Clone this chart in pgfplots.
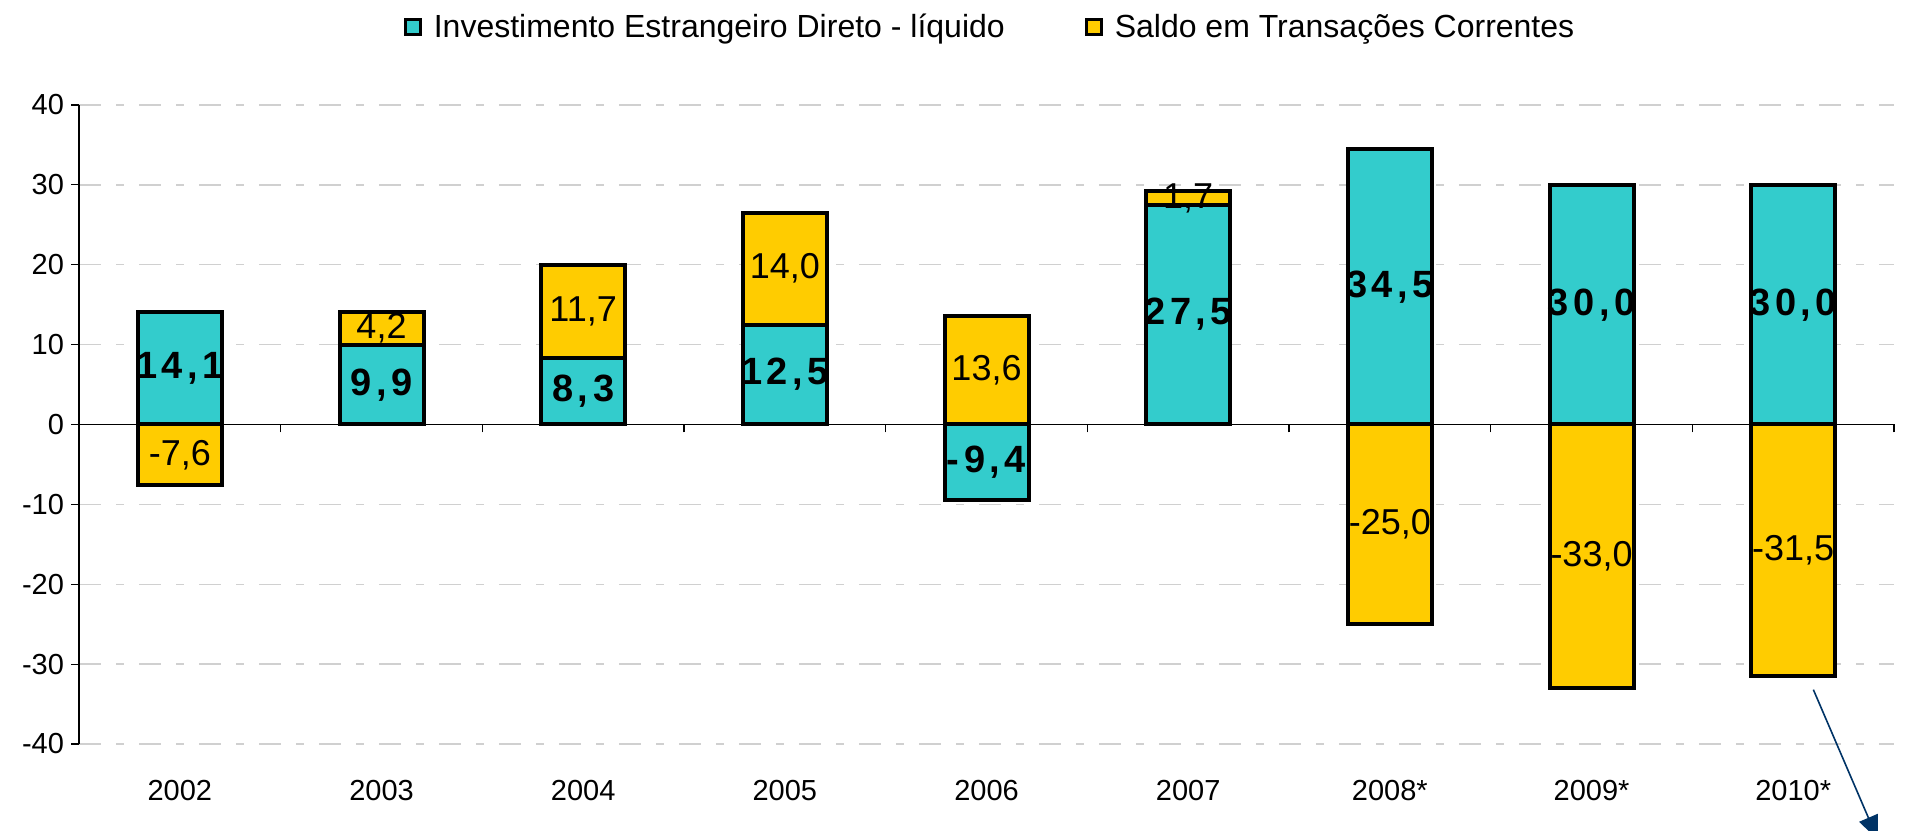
\documentclass[border=0pt]{standalone}
\usepackage{fontspec}
\setmainfont{Liberation Sans}
\newfontfamily\lblbold[LetterSpace=12]{Liberation Sans}
\usepackage{pgfplots}
\usepackage{pgfplotstable}
\pgfplotsset{compat=1.18}
\usetikzlibrary{arrows.meta}
\definecolor{iedcol}{HTML}{33CCCC}
\definecolor{stccol}{HTML}{FFCC00}
\definecolor{gridcol}{HTML}{D0D0D0}
\definecolor{arrowcol}{HTML}{003366}

% US$ bilhoes: IED liquido e saldo em transacoes correntes
\pgfplotstableread{
x ied stc
0 14.1 -7.6
1 9.9 4.2
2 8.3 11.7
3 12.5 14.0
4 -9.4 13.6
5 27.5 1.7
6 34.5 -25.0
7 30.0 -33.0
8 30.0 -31.5
}\bopdata

\pgfplotsset{
  bopframe/.style={width=907.5pt, height=319.5pt, scale only axis,
    xmin=-0.5, xmax=8.5, ymin=-40, ymax=40, enlargelimits=false},
  barline/.style={draw=black, line width=2pt},
  sqlegend/.style={legend image code/.code={
    \draw[##1, line width=1.5pt] (0pt,-3.8pt) rectangle (7.5pt,3.8pt);}},
  vallabel/.style={only marks, mark=none, nodes near coords={%
      \pgfmathprintnumber[fixed, fixed zerofill, precision=1, use comma,
        assume math mode=true]{\pgfplotspointmeta}},
    nodes near coords style={anchor=center, text=black}},
}

\begin{document}
\begin{tikzpicture}
% axis, grid, legend and the positive (stacked) parts
\begin{axis}[bopframe, ybar stacked, bar width=42pt,
  axis x line*=middle, axis y line*=left,
  axis line style={black, line width=0.6pt},
  ytick={-40,-30,...,40},
  xtick={0,...,8},
  xticklabels={2002,2003,2004,2005,2006,2007,2008*,2009*,2010*},
  minor xtick={-0.5,0.5,...,8.5},
  major x tick style={draw=none},
  tick style={black, line width=0.6pt},
  tick align=outside, major tick length=4pt, minor tick length=4pt,
  ymajorgrids,
  major grid style={gridcol, line width=0.7pt, dash pattern=on 11pt off 7.5pt on 4pt off 7.5pt},
  /pgf/number format/assume math mode=true,
  yticklabel style={font=\fontsize{14.5}{16}\selectfont},
  xticklabel style={font=\fontsize{14.5}{16}\selectfont, yshift=-170.5pt},
  legend columns=2,
  legend style={at={(0.5025,1.1221)}, anchor=center, draw=none, fill=none,
    font=\fontsize{16}{18}\selectfont,
    /tikz/every odd column/.append style={column sep=4pt},
    /tikz/every even column/.append style={column sep=38pt}},
]
\addplot[barline, fill=iedcol, sqlegend] table[x=x, y expr={max(\thisrow{ied},0)}] \bopdata;
\addlegendentry{Investimento Estrangeiro Direto - líquido}
\addplot[barline, fill=stccol, sqlegend] table[x=x, y expr={max(\thisrow{stc},0)}] \bopdata;
\addlegendentry{Saldo em Transações Correntes}
\coordinate (bbll) at (rel axis cs:-0.04353,-0.13615);
\coordinate (bbur) at (rel axis cs:1.00826,1.16432);
\end{axis}

% negative parts (from zero) and the value labels
\begin{axis}[bopframe, hide axis, clip=false]
\addplot[ybar, bar width=42pt, bar shift=0pt, barline, fill=iedcol]
  table[x=x, y expr={min(\thisrow{ied},0)}] \bopdata;
\addplot[ybar, bar width=42pt, bar shift=0pt, barline, fill=stccol]
  table[x=x, y expr={min(\thisrow{stc},0)}] \bopdata;
\addplot[vallabel, point meta=\thisrow{ied},
  nodes near coords style={font=\lblbold\bfseries\fontsize{19}{21}\selectfont}]
  table[x=x, y expr={\thisrow{ied}/2}] \bopdata;
\addplot[vallabel, point meta=\thisrow{stc},
  nodes near coords style={font=\fontsize{18}{20}\selectfont}]
  table[x=x, y expr={ifthenelse(\thisrow{stc}>0, max(\thisrow{ied},0)+\thisrow{stc}/2, \thisrow{stc}/2)}] \bopdata;
\draw[arrowcol, line width=0.8pt, -{Triangle[width=10pt,length=12pt]}]
  (axis cs:8.10,-33.2) -- (axis cs:8.42,-52);
\end{axis}
\pgfresetboundingbox
\path[use as bounding box] (bbll) rectangle (bbur);
\end{tikzpicture}
\end{document}
